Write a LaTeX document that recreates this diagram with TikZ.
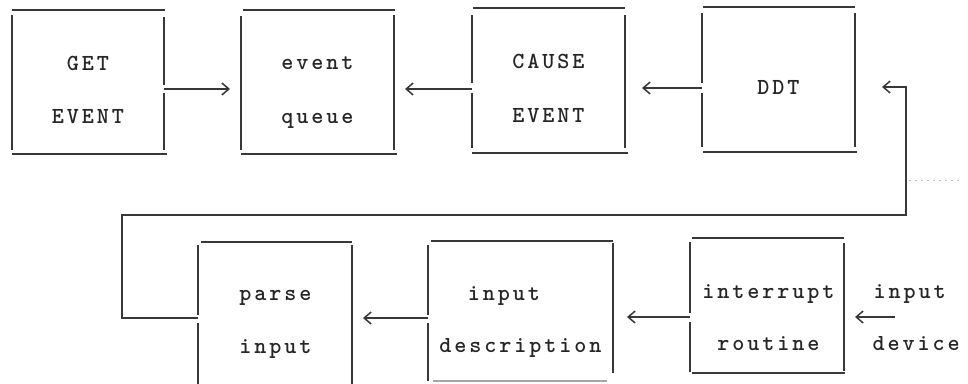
\documentclass[tikz,border=0pt]{standalone}
\usepackage{fontspec}
\usetikzlibrary{arrows.meta}
\newcommand\tyfont{\ttfamily\bfseries\fontsize{23}{23}\selectfont}
\def\tyspaced#1{\tyloop#1\tyend}
\def\tyloop#1{\ifx#1\tyend\else\makebox[15pt][c]{#1}\expandafter\tyloop\fi}
\tikzset{
  ln/.style={line width=1.7pt, draw=black!78},
  arr/.style={ln, -{Straight Barb[length=7pt,width=12pt,line width=1.5pt]}},
  tbox/.style 2 args={inner sep=0pt, outer sep=0pt, minimum width=#1, minimum height=#2, anchor=north west},
  txt/.style={anchor=base, inner sep=0pt, font=\tyfont, text=black!85},
  txtl/.style={txt, anchor=base west},
  faint/.style={draw=black!25, line width=0.7pt, dash pattern=on 2pt off 4pt}
}
\begin{document}
\begin{tikzpicture}[x=1pt,y=-1pt]
\useasboundingbox (0,0) rectangle (968,383);
% boxes (invisible frames)
\node[tbox={152pt}{144pt}] (get)   at (12,10)  {};
\node[tbox={153pt}{144pt}] (evq)   at (241,10) {};
\node[tbox={153pt}{145pt}] (cause) at (472,8)  {};
\node[tbox={153pt}{145pt}] (ddt)   at (702,7)  {};
\node[tbox={154pt}{156pt}] (parse) at (198,242){};
\node[tbox={185pt}{140pt}] (desc)  at (428,241){};
\node[tbox={154pt}{135pt}] (intr)  at (690,238){};
% GET EVENT box sides
\draw[ln] (get.north west) -- ([xshift=1pt]get.north east);
\draw[ln] (get.south west) -- ([xshift=3pt]get.south east);
\draw[ln] ([yshift=-5pt]get.north west) -- ([yshift=4pt]get.south west);
\draw[ln] ([yshift=-7pt]get.north east) -- ([yshift=-75pt]get.north east);
\draw[ln] ([yshift=-83pt]get.north east) -- ([yshift=4pt]get.south east);
% event queue box sides
\draw[ln] ([xshift=2pt]evq.north west) -- ([xshift=1pt]evq.north east);
\draw[ln] (evq.south west) -- ([xshift=3pt]evq.south east);
\draw[ln] ([yshift=-6pt]evq.north west) -- ([yshift=4pt]evq.south west);
\draw[ln] ([yshift=-5pt]evq.north east) -- ([yshift=4pt]evq.south east);
% CAUSE EVENT box sides
\draw[ln] ([xshift=1pt]cause.north west) -- (cause.north east);
\draw[ln] (cause.south west) -- ([xshift=3pt]cause.south east);
\draw[ln] ([yshift=-7pt]cause.north west) -- ([yshift=-75pt]cause.north west);
\draw[ln] ([yshift=-85pt]cause.north west) -- ([yshift=5pt]cause.south west);
\draw[ln] ([yshift=-7pt]cause.north east) -- ([yshift=5pt]cause.south east);
% DDT box sides
\draw[ln] ([xshift=1pt]ddt.north west) -- (ddt.north east);
\draw[ln] ([xshift=1pt]ddt.south west) -- ([xshift=2pt]ddt.south east);
\draw[ln] ([yshift=-6pt]ddt.north west) -- ([yshift=-76pt]ddt.north west);
\draw[ln] ([yshift=-86pt]ddt.north west) -- ([yshift=5pt]ddt.south west);
\draw[ln] ([yshift=-6pt]ddt.north east) -- ([yshift=5pt]ddt.south east);
% parse input box sides (bottom cut off)
\draw[ln] ([xshift=3pt]parse.north west) -- (parse.north east);
\draw[ln] ([yshift=-3pt]parse.north west) -- ([yshift=-73pt]parse.north west);
\draw[ln] ([yshift=-81pt]parse.north west) -- (parse.south west);
\draw[ln] ([yshift=-3pt]parse.north east) -- (parse.south east);
% input description box sides
\draw[ln] ([xshift=3pt]desc.north west) -- (desc.north east);
\draw[ln, draw=black!35, line width=1.2pt] ([xshift=5pt]desc.south west) -- ([xshift=-6pt]desc.south east);
\draw[ln] ([yshift=-4pt]desc.north west) -- ([yshift=-74pt]desc.north west);
\draw[ln] ([yshift=-82pt]desc.north west) -- (desc.south west);
\draw[ln] ([yshift=-2pt]desc.north east) -- ([yshift=8pt]desc.south east);
% interrupt routine box sides
\draw[ln] ([xshift=2pt]intr.north west) -- (intr.north east);
\draw[ln] ([xshift=2pt]intr.south west) -- ([xshift=1pt]intr.south east);
\draw[ln] ([yshift=-4pt]intr.north west) -- ([yshift=-75pt]intr.north west);
\draw[ln] ([yshift=-84pt]intr.north west) -- ([yshift=1pt]intr.south west);
\draw[ln] ([yshift=-5pt]intr.north east) -- ([yshift=2pt]intr.south east);
% texts
\node[txt] (t1) at (88,70)   {\tyspaced{GET}};
\node[txt] (t2) at (88,123)  {\tyspaced{EVENT}};
\node[txt] (t3) at (317.5,69)  {\tyspaced{event}};
\node[txt] (t4) at (317.5,123) {\tyspaced{queue}};
\node[txt] (t5) at (548.5,68)  {\tyspaced{CAUSE}};
\node[txt] (t6) at (548.5,122) {\tyspaced{EVENT}};
\node[txt] (t7) at (778.5,94.5) {\tyspaced{DDT}};
\node[txt] (t8) at (275.5,300) {\tyspaced{parse}};
\node[txt] (t9) at (275.5,353) {\tyspaced{input}};
\node[txt] (t10) at (504,300) {\tyspaced{input}};
\node[txt] (t11) at (520.5,352) {\tyspaced{description}};
\node[txt] (t12) at (768.5,298) {\tyspaced{interrupt}};
\node[txt] (t13) at (768.5,350) {\tyspaced{routine}};
\node[txtl] (t14) at (872,298) {\tyspaced{input}};
\node[txtl] (t15) at (871,350) {\tyspaced{device}};
% loop corner and free end coordinates
\coordinate (lpa) at (122,215);
\coordinate (lpb) at (906,215);
\coordinate (devtail) at (895,317);
% connectors
\draw[arr] ([yshift=-79pt]get.north east) -- ([xshift=-11pt,yshift=-79pt]evq.north west);
\draw[arr] ([yshift=-81pt]cause.north west) -- ([xshift=11pt,yshift=-79pt]evq.north east);
\draw[arr] ([yshift=-81pt]ddt.north west) -- ([xshift=17pt,yshift=-80pt]cause.north east);
\draw[arr] ([yshift=-76pt]parse.north west) -| (lpa) -- (lpb) |- ([xshift=27pt,yshift=-80pt]ddt.north east);
\draw[arr] ([yshift=-77pt]desc.north west) -- ([xshift=11pt,yshift=-76pt]parse.north east);
\draw[arr] ([yshift=-79pt]intr.north west) -- ([xshift=14pt,yshift=-76pt]desc.north east);
\draw[arr] (devtail) -- ([xshift=11pt,yshift=-79pt]intr.north east);
% faint scan mark
\draw[faint] (909,180) -- (962,180);
\end{tikzpicture}
\end{document}
